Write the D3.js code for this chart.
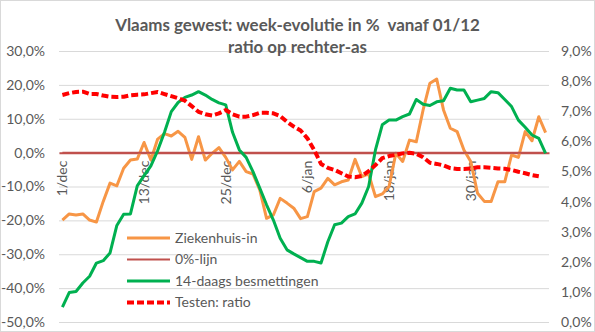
<!DOCTYPE html>
<html>
<head>
<meta charset="utf-8">
<script src="https://cdn.jsdelivr.net/npm/d3@7"></script>
<style>
  html, body { margin: 0; padding: 0; background: #fff; }
  svg { display: block; font-family: Lato, "Open Sans", sans-serif; }
  text { white-space: pre; }
</style>
</head>
<body>
<svg id="chart" width="595" height="332"></svg>
<script>
// ---------- DATA ----------
const titleLines = ["Vlaams gewest: week-evolutie in %  vanaf 01/12", "ratio op rechter-as"];

const categories = [
  "1/dec","2/dec","3/dec","4/dec","5/dec","6/dec","7/dec","8/dec","9/dec","10/dec",
  "11/dec","12/dec","13/dec","14/dec","15/dec","16/dec","17/dec","18/dec","19/dec","20/dec",
  "21/dec","22/dec","23/dec","24/dec","25/dec","26/dec","27/dec","28/dec","29/dec","30/dec","31/dec",
  "1/jan","2/jan","3/jan","4/jan","5/jan","6/jan","7/jan","8/jan","9/jan","10/jan",
  "11/jan","12/jan","13/jan","14/jan","15/jan","16/jan","17/jan","18/jan","19/jan","20/jan",
  "21/jan","22/jan","23/jan","24/jan","25/jan","26/jan","27/jan","28/jan","29/jan","30/jan","31/jan",
  "1/feb","2/feb","3/feb","4/feb","5/feb","6/feb","7/feb","8/feb","9/feb","10/feb"
];
const xTickLabels = ["1/dec","13/dec","25/dec","6/jan","18/jan","30/jan"];

// week-evolution in % (left axis)
const ziekenhuisIn = [
  -19.9,-18.1,-18.4,-18.1,-19.9,-20.5,-14.4,-9.0,-9.8,-4.6,
  -2.2,-1.9,3.0,-2.2,4.0,5.6,4.9,6.3,4.5,-2.0,
  4.7,-2.2,-0.2,1.5,-1.4,-5.1,-2.6,-5.6,-6.3,-11.0,
  -19.4,-18.4,-13.5,-14.9,-16.4,-19.5,-18.9,-11.5,-10.5,-7.6,
  -9.5,-8.6,-8.1,-2.0,-7.1,-6.3,-13.0,-12.2,-10.0,-0.2,
  -2.6,3.7,3.2,12.6,20.5,21.7,12.6,7.2,6.2,0.8,
  -2.6,-12.0,-14.4,-14.4,-8.6,-8.6,-0.7,-1.4,6.2,3.5,
  10.6,5.9
];
const nulLijn = categories.map(() => 0);
const besmettingen14d = [
  -45.6,-41.3,-41.0,-38.5,-36.5,-32.6,-31.9,-29.6,-21.5,-18.2,
  -18.1,-9.8,-6.8,-3.9,0.6,6.0,12.1,14.8,16.3,17.0,
  18.0,17.0,15.7,14.7,14.1,6.0,0.8,-1.4,-5.6,-10.5,
  -15.4,-19.9,-25.3,-28.7,-29.9,-31.0,-32.1,-32.1,-32.6,-26.3,
  -21.3,-20.8,-18.9,-18.1,-14.9,-10.0,0.8,8.2,9.6,9.6,
  10.6,11.4,15.7,14.3,13.9,15.0,15.3,19.0,18.5,18.5,
  15.0,15.5,16.0,18.0,17.7,15.7,13.6,9.6,7.5,5.2,
  4.2,-0.2
];
// test positivity ratio in % (right axis)
const testenRatio = [
  7.54,7.60,7.64,7.65,7.57,7.57,7.52,7.48,7.47,7.48,
  7.53,7.55,7.56,7.60,7.64,7.57,7.50,7.43,7.35,7.17,
  6.98,6.90,6.86,6.93,7.04,6.90,6.82,6.82,6.87,6.95,
  6.95,6.93,6.84,6.65,6.49,6.36,6.10,5.71,5.25,5.12,
  5.05,4.94,4.83,4.81,4.85,5.01,5.21,5.44,5.51,5.55,
  5.60,5.62,5.59,5.47,5.29,5.25,5.20,5.11,5.08,5.08,
  5.10,5.14,5.14,5.12,5.10,5.09,5.05,4.99,4.94,4.88,
  4.84,null
];
const leftTicks = [30,20,10,0,-10,-20,-30,-40,-50];
const rightTicks = [9,8,7,6,5,4,3,2,1,0];
const seriesNames = ["Ziekenhuis-in","0%-lijn","14-daags besmettingen","Testen: ratio"];

// ---------- LAYOUT ----------
const W = 595, H = 332;
const plot = { left: 59, right: 549, top: 51, bottom: 322 };
const grey = "#595959";

const nl = d3.formatLocale({ decimal: ",", thousands: ".", grouping: [3], currency: ["€",""], minus: "-" });
const pct = nl.format(".1%");

const svg = d3.select("#chart");
svg.append("rect").attr("x",0.5).attr("y",0.5).attr("width",W-1).attr("height",H-1)
  .attr("fill","#fff").attr("stroke","#d9d9d9");

const x = d3.scaleBand().domain(categories).range([plot.left, plot.right]).padding(0);
const cx = d => x(d) + x.bandwidth()/2;
const yL = d3.scaleLinear().domain([-50, 30]).range([plot.bottom, plot.top]);
const yR = d3.scaleLinear().domain([0, 9]).range([plot.bottom, plot.top]);

// gridlines
const grid = svg.append("g").attr("transform",`translate(${plot.left},0)`)
  .call(d3.axisLeft(yL).tickValues(leftTicks).tickSize(-(plot.right-plot.left)).tickFormat(""));
grid.select(".domain").remove();
grid.selectAll("line").attr("stroke","#d9d9d9").attr("stroke-width",1);

// left axis labels
const axL = svg.append("g").attr("transform",`translate(${plot.left},0)`)
  .call(d3.axisLeft(yL).tickValues(leftTicks).tickSize(0).tickPadding(14).tickFormat(d => pct(d/100)));
axL.select(".domain").remove();
axL.selectAll("text").attr("fill",grey).style("font-size","14px").style("font-family","Lato");

// right axis labels
const axR = svg.append("g").attr("transform",`translate(${plot.right},0)`)
  .call(d3.axisRight(yR).tickValues(rightTicks).tickSize(0).tickPadding(12).tickFormat(d => pct(d/100)));
axR.select(".domain").remove();
axR.selectAll("text").attr("fill",grey).style("font-size","14px").style("font-family","Lato");

// category axis (crosses at 0)
const axB = svg.append("g").attr("transform",`translate(0,${yL(0)})`)
  .call(d3.axisBottom(x).tickValues(xTickLabels).tickSize(0));
axB.select(".domain").attr("stroke","#c0504d").attr("stroke-width",2);
axB.selectAll("text")
  .attr("transform","rotate(-90)")
  .attr("x",-8).attr("y",0).attr("dy","0.36em")
  .attr("text-anchor","end")
  .attr("fill",grey).style("font-size","14px").style("font-family","Lato");

// series
const lineL = d3.line().defined(d => d.v != null).x(d => cx(d.c)).y(d => yL(d.v));
const lineR = d3.line().defined(d => d.v != null).x(d => cx(d.c)).y(d => yR(d.v));
const zip = arr => categories.map((c,i) => ({c, v: arr[i]}));

const styles = [
  { data: ziekenhuisIn, line: lineL, color: "#f79646", width: 3, dash: null },
  { data: nulLijn, line: lineL, color: "#c0504d", width: 2, dash: null },
  { data: besmettingen14d, line: lineL, color: "#00b050", width: 3, dash: null },
  { data: testenRatio, line: lineR, color: "#ff0000", width: 4, dash: "7,3" }
];
styles.forEach(s => {
  svg.append("path").datum(zip(s.data))
    .attr("d", s.line)
    .attr("fill","none")
    .attr("stroke", s.color)
    .attr("stroke-width", s.width)
    .attr("stroke-linejoin","round")
    .attr("stroke-dasharray", s.dash);
});

// legend
const legend = svg.append("g").attr("transform","translate(127,238)");
seriesNames.forEach((name,i) => {
  const s = styles[i];
  const g = legend.append("g").attr("transform",`translate(0,${i*21.5})`);
  g.append("line").attr("x1",0).attr("x2",43).attr("y1",0).attr("y2",0)
    .attr("stroke",s.color).attr("stroke-width",s.width).attr("stroke-dasharray",s.dash);
  g.append("text").attr("x",48).attr("y",0).attr("dy","0.35em")
    .attr("fill",grey).style("font-size","14px").style("font-family","Lato").text(name);
});

// title (fit to measured width of reference)
const titleTargets = [ {y: 25, w: 365}, {y: 47, w: 139} ];
titleLines.forEach((t,i) => {
  const el = svg.append("text").attr("x", 297.5).attr("y", titleTargets[i].y).attr("dy","0.35em")
    .attr("text-anchor","middle").attr("fill",grey)
    .style("font-weight","bold").style("font-size","16px").style("font-family","Lato").text(t);
  const w = el.node().getComputedTextLength();
  el.style("font-size", (16 * titleTargets[i].w / w).toFixed(2) + "px");
});
</script>
</body>
</html>
